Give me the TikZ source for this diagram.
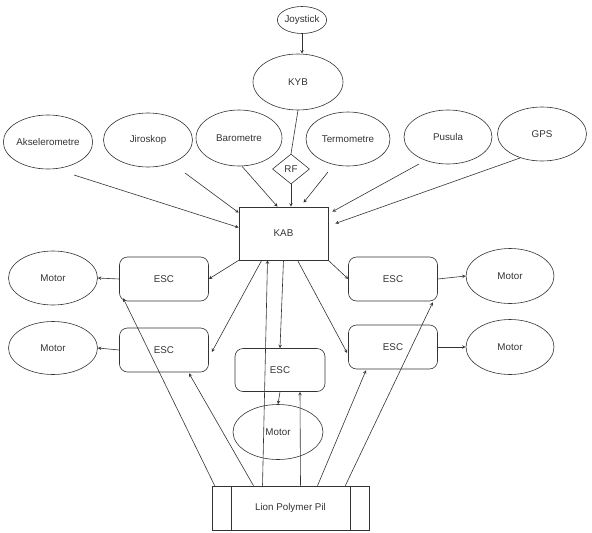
\documentclass[tikz,border=0pt]{standalone}
\usepackage{fontspec}
\setmainfont{Liberation Sans}
\usetikzlibrary{shapes.geometric,calc}

\tikzset{
  oval/.style={ellipse, draw, inner sep=0pt, minimum width=89, minimum height=54},
  escbox/.style={rectangle, draw, rounded corners=8pt, minimum width=89, minimum height=44},
}

\begin{document}
\begin{tikzpicture}[x=1pt, y=-1pt, ->, >=stealth, color=black!80, line width=0.6pt,
    font=\fontsize{9.8}{11}\selectfont]
    \useasboundingbox (0,0) rectangle (592,533);

    % top
    \node[oval, minimum width=48, minimum height=27] (joy) at (302,20) {Joystick};
    \node[oval, minimum width=90, minimum height=56] (kyb) at (298,82) {KYB};
    \node[diamond, draw, inner sep=0pt, minimum width=37, minimum height=30] (rf) at (291,169) {RF};

    % sensors
    \node[oval] (aks) at (48,142) {Akselerometre};
    \node[oval] (jir) at (148,140) {Jiroskop};
    \node[oval, minimum width=86, minimum height=56] (bar) at (239,138) {Barometre};
    \node[oval, minimum width=84] (ter) at (348,139) {Termometre};
    \node[oval, minimum width=88] (pus) at (448,137) {Pusula};
    \node[oval] (gps) at (542,134) {GPS};

    \node[draw, minimum width=89, minimum height=53] (kab) at (283.5,233.5) {KAB};

    % esc + motor
    \node[escbox] (escL1) at (164,279) {ESC};
    \node[escbox] (escL2) at (164,350) {ESC};
    \node[escbox, minimum width=90, minimum height=43] (escC) at (280,370) {ESC};
    \node[escbox] (escR1) at (393,279) {ESC};
    \node[escbox] (escR2) at (393,347) {ESC};

    \node[oval] (motL1) at (53,278) {Motor};
    \node[oval, minimum height=53] (motL2) at (53,348) {Motor};
    \node[oval, minimum width=90, minimum height=55] (motC) at (278,432) {Motor};
    \node[oval, minimum width=88, minimum height=55] (motR1) at (510,276) {Motor};
    \node[oval, minimum width=88, minimum height=55] (motR2) at (510,347) {Motor};

    \node[draw, minimum width=157, minimum height=44] (bat) at (290.5,508) {Lion Polymer Pil};
    \draw[-] ($(bat.north west)+(20,0)$) -- ($(bat.south west)+(20,0)$);
    \draw[-] ($(bat.north east)+(-19,0)$) -- ($(bat.south east)+(-19,0)$);

    \path
        (joy.south) edge (joy.south |- kyb.north)
        (kyb.south) edge[-] (rf.north)
        (rf.south) edge (rf.south |- kab.north)
        ($(aks)+(26,33)$) edge ($(kab.west)+(0,-6)$)
        ($(jir)+(37,33)$) edge ($(kab.north west)+(0,6)$)
        ($(bar.south)+(3,0)$) edge ($(kab.north)+(-6,0)$)
        ($(ter)+(-20,33)$) edge ($(kab.north)+(20,-4)$)
        ($(pus)+(-29,27)$) edge ($(kab.north east)+(4,5)$)
        ($(gps)+(-22,24)$) edge ($(kab.east)+(7,-10)$);

    \path
        (kab.south west) edge (escL1.east)
        ($(kab.south west)+(23,0)$) edge ($(escL2.east)+(3,2)$)
        (kab.south) edge (escC.north)
        ($(kab.south)+(14,0)$) edge ($(escR2.west)+(-1,6)$)
        (kab.south east) edge (escR1.west)
        (escL1.west) edge (motL1.east)
        (escL2.west) edge (motL2.east)
        (escR1.east) edge (motR1.west)
        (escR2.east) edge (motR2.west)
        (escC.south) edge (motC.north);

    \path
        ($(bat.north)+(-28,0)$) edge ($(kab.south)+(-16,0)$)
        ($(bat.north)+(10,0)$) edge ($(escC.south)+(20,0)$)
        ($(bat.north west)+(3,0)$) edge ($(escL1.south west)+(4,-3)$)
        ($(bat.north)+(-37,0)$) edge ($(escL2.south)+(25,1)$)
        ($(bat.north)+(27,0)$) edge ($(escR2.south)+(-27,1)$)
        ($(bat.north east)+(-24,0)$) edge ($(escR1.south east)+(-5,1)$);
\end{tikzpicture}
\end{document}
